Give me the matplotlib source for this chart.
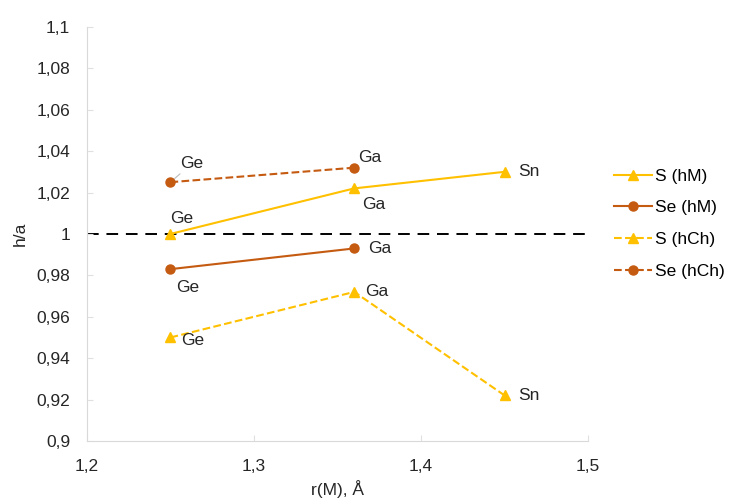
import matplotlib.pyplot as plt
from matplotlib.ticker import FuncFormatter, MultipleLocator

plt.rcParams['font.family'] = ['Liberation Sans', 'DejaVu Sans']

# ионные радиусы металлов и отношения h/a
r_m = [1.25, 1.36, 1.45]
s_hm = [1.000, 1.022, 1.030]
se_hm = [0.983, 0.993]
s_hch = [0.950, 0.972, 0.922]
se_hch = [1.025, 1.032]
metals = ['Ge', 'Ga', 'Sn']

gold = '#FFC000'
brown = '#C55A11'
txt = '#262626'

fig = plt.figure(figsize=(7.37, 4.98), dpi=100)
ax = fig.add_axes([0.118, 0.1145, 0.68, 0.8315])

ax.axhline(1.0, color='black', lw=1.4, ls=(0, (6, 4)), zorder=1)

ax.plot(r_m, s_hm, color=gold, lw=1.5, marker='^', ms=6.5, label='S (hM)', zorder=3)
ax.plot(r_m[:2], se_hm, color=brown, lw=1.5, marker='o', ms=6.5, label='Se (hM)', zorder=3)
ax.plot(r_m, s_hch, color=gold, lw=1.5, ls='--', marker='^', ms=6.5, label='S (hCh)', zorder=3)
ax.plot(r_m[:2], se_hch, color=brown, lw=1.5, ls='--', marker='o', ms=6.5, label='Se (hCh)', zorder=3)

fs = 12.5
# подписи точек
ax.annotate(metals[0], (r_m[0], se_hch[0]), xytext=(7, 8), textcoords='offset points',
            fontsize=fs, va='bottom', ha='left', color=txt,
            arrowprops=dict(arrowstyle='-', color='#BBBBBB', lw=0.8, shrinkA=0, shrinkB=4))
ax.annotate(metals[1], (r_m[1], se_hch[1]), xytext=(3, 2), textcoords='offset points',
            fontsize=fs, va='bottom', ha='left', color=txt)
ax.annotate(metals[0], (r_m[0], s_hm[0]), xytext=(0, 6), textcoords='offset points',
            fontsize=fs, va='bottom', ha='left', color=txt)
ax.annotate(metals[1], (r_m[1], s_hm[1]), xytext=(6, -6), textcoords='offset points',
            fontsize=fs, va='top', ha='left', color=txt)
ax.annotate(metals[2], (r_m[2], s_hm[2]), xytext=(10, 0), textcoords='offset points',
            fontsize=fs, va='center', ha='left', color=txt)
ax.annotate(metals[0], (r_m[0], se_hm[0]), xytext=(4, -8), textcoords='offset points',
            fontsize=fs, va='top', ha='left', color=txt)
ax.annotate(metals[1], (r_m[1], se_hm[1]), xytext=(10, 0), textcoords='offset points',
            fontsize=fs, va='center', ha='left', color=txt)
ax.annotate(metals[0], (r_m[0], s_hch[0]), xytext=(8, -2), textcoords='offset points',
            fontsize=fs, va='center', ha='left', color=txt)
ax.annotate(metals[1], (r_m[1], s_hch[1]), xytext=(8, 0), textcoords='offset points',
            fontsize=fs, va='center', ha='left', color=txt)
ax.annotate(metals[2], (r_m[2], s_hch[2]), xytext=(10, 0), textcoords='offset points',
            fontsize=fs, va='center', ha='left', color=txt)

ax.set_xlim(1.2, 1.5)
ax.set_ylim(0.9, 1.1)
ax.xaxis.set_major_locator(MultipleLocator(0.1))
ax.yaxis.set_major_locator(MultipleLocator(0.02))
comma = FuncFormatter(lambda v, p: f'{round(v, 4):g}'.replace('.', ','))
ax.xaxis.set_major_formatter(comma)
ax.yaxis.set_major_formatter(comma)

for side in ['top', 'right']:
    ax.spines[side].set_visible(False)
for side in ['left', 'bottom']:
    ax.spines[side].set_color('#D9D9D9')
ax.tick_params(direction='in', length=4, color='#E0E0E0', labelsize=fs, labelcolor=txt)
ax.tick_params(axis='x', pad=13)
ax.tick_params(axis='y', pad=12)

ax.set_xlabel('r(M), Å', fontsize=fs, color=txt, labelpad=4)
ax.set_ylabel('h/a', fontsize=fs, color=txt, labelpad=6)

ax.legend(loc='center left', bbox_to_anchor=(1.02, 0.525), frameon=False, fontsize=fs,
          handlelength=2.2, handletextpad=0.2, labelspacing=0.95)

fig.savefig('out.png', dpi=100)
